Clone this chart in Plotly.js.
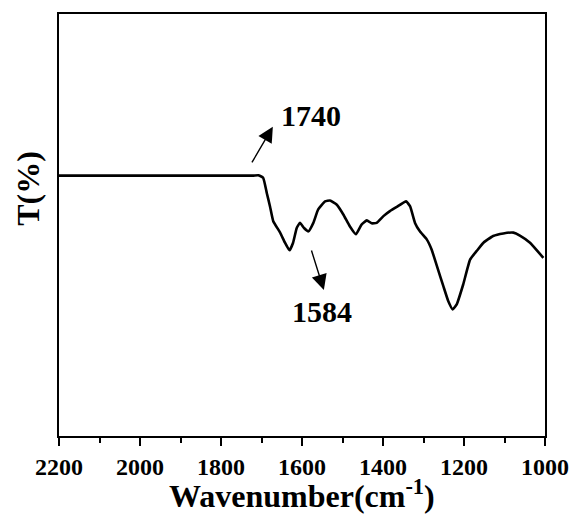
<!DOCTYPE html>
<html>
<head>
<meta charset="utf-8">
<script src="https://cdn.plot.ly/plotly-3.0.1.min.js"></script>
<style>html,body{margin:0;padding:0;background:#fff;}#chart{width:575px;height:514px;}</style>
</head>
<body>
<div id="chart"></div>
<script>
const wavenumber = [2200, 2100, 2000, 1900, 1800, 1750, 1720, 1708, 1696, 1687, 1679, 1671, 1654, 1642, 1631, 1622, 1613, 1605, 1595, 1584, 1572, 1560, 1543, 1531, 1514, 1498, 1482, 1467, 1453, 1440, 1428, 1416, 1399, 1383, 1366, 1343, 1333, 1321, 1309, 1292, 1280, 1267, 1251, 1239, 1228, 1218, 1202, 1185, 1169, 1152, 1128, 1103, 1078, 1062, 1037, 1004];
const transmittance = [61.7, 61.7, 61.7, 61.7, 61.7, 61.7, 61.7, 61.8, 61.2, 57.6, 54.4, 50.9, 48.2, 45.8, 44.0, 45.8, 49.3, 50.5, 49.3, 48.5, 50.5, 53.7, 55.6, 55.8, 54.8, 52.5, 49.7, 47.8, 50.1, 51.1, 50.4, 50.5, 52.1, 53.3, 54.3, 55.6, 54.4, 50.5, 48.5, 46.6, 44.2, 40.3, 35.5, 32.0, 30.0, 31.2, 35.9, 41.8, 43.8, 45.8, 47.4, 48.0, 48.2, 47.5, 45.8, 42.2];
const xTicks = [2200, 2000, 1800, 1600, 1400, 1200, 1000];
const xTickLabels = ['2200', '2000', '1800', '1600', '1400', '1200', '1000'];
const peakLabels = ['1740', '1584'];

const serif = 'Liberation Serif, Times New Roman, serif';

const trace = {
  x: wavenumber,
  y: transmittance,
  type: 'scatter',
  mode: 'lines',
  line: {color: '#000', width: 2.6, shape: 'spline', smoothing: 0.4},
  hoverinfo: 'skip'
};

const layout = {
  width: 575,
  height: 514,
  margin: {l: 59, r: 30, t: 14, b: 78},
  paper_bgcolor: '#fff',
  plot_bgcolor: '#fff',
  showlegend: false,
  xaxis: {
    range: [2200, 1000],
    tickvals: xTicks,
    ticktext: xTickLabels,
    ticks: 'outside',
    ticklen: 8,
    tickwidth: 2,
    tickcolor: '#000',
    ticklabelstandoff: 0,
    minor: {dtick: 100, tick0: 1000, ticks: 'outside', ticklen: 5, tickwidth: 2, tickcolor: '#000'},
    showline: true,
    linewidth: 2,
    linecolor: '#000',
    mirror: true,
    showgrid: false,
    zeroline: false,
    tickfont: {family: serif, size: 24, color: '#000', weight: 'bold'}
  },
  yaxis: {
    range: [0, 100],
    showticklabels: false,
    ticks: '',
    showline: true,
    linewidth: 2,
    linecolor: '#000',
    mirror: true,
    showgrid: false,
    zeroline: false
  },
  annotations: [
    {
      x: 1672, y: 73.3, ax: 1731, ay: 63.6,
      xref: 'x', yref: 'y', axref: 'x', ayref: 'y',
      showarrow: true, arrowhead: 2, arrowsize: 2.2, arrowwidth: 1.4, arrowcolor: '#000',
      text: ' '
    },
    {
      x: 1578, y: 75.9, xref: 'x', yref: 'y', showarrow: false,
      text: peakLabels[0],
      font: {family: serif, size: 30, color: '#000', weight: 'bold'}
    },
    {
      x: 1546, y: 34.6, ax: 1584, ay: 46.2,
      xref: 'x', yref: 'y', axref: 'x', ayref: 'y',
      showarrow: true, arrowhead: 2, arrowsize: 2.2, arrowwidth: 1.4, arrowcolor: '#000',
      text: ' '
    },
    {
      x: 1551, y: 29.6, xref: 'x', yref: 'y', showarrow: false,
      text: peakLabels[1],
      font: {family: serif, size: 30, color: '#000', weight: 'bold'}
    },
    {
      x: 0.5, y: -0.137, xref: 'paper', yref: 'paper', showarrow: false,
      xanchor: 'center', yanchor: 'middle',
      text: 'Wavenumber(cm<sup>-1</sup>)',
      font: {family: serif, size: 32, color: '#000', weight: 'bold'}
    },
    {
      x: -0.064, y: 0.588, xref: 'paper', yref: 'paper', showarrow: false,
      xanchor: 'center', yanchor: 'middle', textangle: -90,
      text: 'T(%)',
      font: {family: serif, size: 32, color: '#000', weight: 'bold'}
    }
  ]
};

Plotly.newPlot('chart', [trace], layout, {staticPlot: true, displayModeBar: false});
</script>
</body>
</html>
